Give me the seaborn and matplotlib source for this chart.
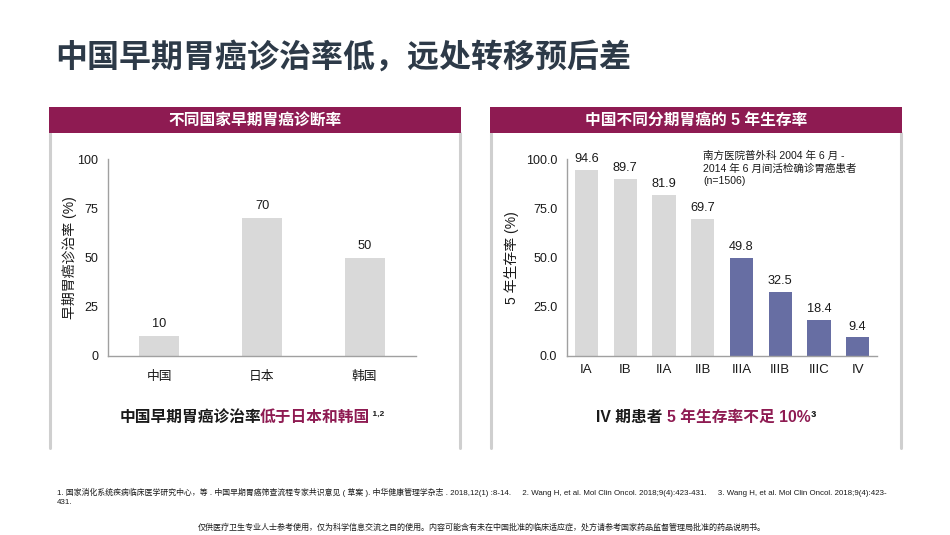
import matplotlib
matplotlib.use("Agg")
import matplotlib.pyplot as plt
import seaborn as sns
import pandas as pd
from matplotlib.patches import Rectangle
from matplotlib.lines import Line2D

# ---- data ----
countries = ["中国", "日本", "韩国"]
early_rate = [10, 70, 50]
stages = ["IA", "IB", "IIA", "IIB", "IIIA", "IIIB", "IIIC", "IV"]
survival = [94.6, 89.7, 81.9, 69.7, 49.8, 32.5, 18.4, 9.4]
left_yticks = [0, 25, 50, 75, 100]
right_yticks = [0.0, 25.0, 50.0, 75.0, 100.0]

sns.set_theme(style="white")
plt.rcParams['font.family'] = ['Liberation Sans', 'Noto Sans CJK SC', 'DejaVu Sans']
plt.rcParams['axes.unicode_minus'] = False

W, H = 950, 535
fig = plt.figure(figsize=(W / 100, H / 100), dpi=100)
fig.patch.set_facecolor("white")

MAGENTA = "#8e1b52"
GRAY_BAR = "#d9d9d9"
PURPLE = "#676ea3"
SPINE = "#a0a0a0"
TXT = "#1a1a1a"

def fx(x):
    return x / W

def fy(y):
    return 1 - y / H

# ---- title ----
fig.text(fx(55), fy(58), "中国早期胃癌诊治率低，远处转移预后差", fontsize=23, fontweight="bold",
         color="#2d3a48", ha="left", va="center")

# ---- panel frames ----
for x0, x1, head in [(49, 461, "不同国家早期胃癌诊断率"), (490, 902, "中国不同分期胃癌的 5 年生存率")]:
    fig.patches.append(Rectangle((fx(x0), fy(133)), fx(x1 - x0), (133 - 107) / H,
                                 transform=fig.transFigure, facecolor=MAGENTA, edgecolor="none", zorder=1))
    for xx in (x0 + 1, x1 - 1):
        fig.lines.append(Line2D([fx(xx), fx(xx)], [fy(133), fy(448)], transform=fig.transFigure,
                                color="#cfcfcf", linewidth=2.2, zorder=1))
    fig.text(fx((x0 + x1) / 2), fy(120), head, fontsize=11.3, fontweight="bold", color="white",
             ha="center", va="center")

# ---- left chart ----
axL = fig.add_axes([fx(108), fy(356), fx(416 - 108), (356 - 159) / H])
dfL = pd.DataFrame({"country": countries, "rate": early_rate})
sns.barplot(data=dfL, x="country", y="rate", ax=axL, color=GRAY_BAR, width=0.39,
            saturation=1, edgecolor="none")
axL.set_ylim(0, 100)
axL.set_xlim(-0.5, len(countries) - 0.5)
axL.set_yticks(left_yticks)
axL.set_yticklabels([str(v) for v in left_yticks])
for c, v in enumerate(early_rate):
    axL.text(c, v + 3, f"{v}", ha="center", va="bottom", fontsize=9.2, color=TXT)
axL.set_xticks(range(len(countries)))
axL.set_xticks([i - 0.5 for i in range(len(countries) + 1)], minor=True)
axL.tick_params(axis="x", which="major", length=0, pad=11, labelsize=9.2, labelcolor=TXT)
axL.tick_params(axis="x", which="minor", length=5, width=1, color=SPINE, direction="out")
axL.tick_params(axis="y", length=5, width=1, color=SPINE, direction="out", labelsize=9, labelcolor=TXT, pad=2)
axL.set_xlabel("")
axL.set_ylabel("早期胃癌诊治率 (%)", fontsize=10, color=TXT, labelpad=0)
for s in ["top", "right"]:
    axL.spines[s].set_visible(False)
for s in ["left", "bottom"]:
    axL.spines[s].set_color(SPINE)
    axL.spines[s].set_linewidth(1)
axL.set_facecolor("white")

# ---- right chart ----
axR = fig.add_axes([fx(567), fy(356), fx(877 - 567), (356 - 159) / H])
dfR = pd.DataFrame({"stage": stages, "surv": survival,
                    "grp": ["early"] * 4 + ["late"] * 4})
sns.barplot(data=dfR, x="stage", y="surv", hue="grp", ax=axR, palette={"early": GRAY_BAR, "late": PURPLE},
            width=0.6, saturation=1, edgecolor="none", dodge=False, legend=False)
axR.set_ylim(0, 100)
axR.set_xlim(-0.5, len(stages) - 0.5)
axR.set_yticks(right_yticks)
axR.set_yticklabels([f"{v:.1f}" for v in right_yticks])
for c, v in enumerate(survival):
    axR.text(c, v + 2.5, f"{v}", ha="center", va="bottom", fontsize=9.2, color=TXT)
axR.tick_params(axis="x", length=0, pad=6, labelsize=9.5, labelcolor=TXT)
axR.tick_params(axis="y", length=5, width=1, color=SPINE, direction="out", labelsize=9, labelcolor=TXT, pad=2)
axR.set_xlabel("")
axR.set_ylabel("5 年生存率 (%)", fontsize=10, color=TXT, labelpad=5)
for s in ["top", "right"]:
    axR.spines[s].set_visible(False)
for s in ["left", "bottom"]:
    axR.spines[s].set_color(SPINE)
    axR.spines[s].set_linewidth(1)
axR.set_facecolor("white")

fig.text(fx(703), fy(151), "南方医院普外科 2004 年 6 月 -\n2014 年 6 月间活检确诊胃癌患者\n(n=1506)",
         fontsize=7.6, color=TXT, ha="left", va="top", linespacing=1.25)

# ---- subtitles composed of coloured pieces ----
renderer = fig.canvas.get_renderer()

def rich_line(pieces, cx, cy):
    texts = []
    widths = []
    for s, col, size, dy, trim in pieces:
        t = fig.text(0, 0, s, fontsize=size, fontweight="bold", color=col, ha="left", va="baseline")
        bb = t.get_window_extent(renderer)
        texts.append((t, dy))
        widths.append(bb.width - trim)
    total = sum(widths)
    x = cx - total / 2
    for (t, dy), w in zip(texts, widths):
        t.set_position((x / W, fy(cy - dy)))
        x += w

rich_line([("中国早期胃癌诊治率", TXT, 11.3, 0, 1.5), ("低于日本和韩国", MAGENTA, 11.3, 0, 0),
           (" 1,2", TXT, 6, 6, 0)], 252, 422)
rich_line([("IV 期患者 ", TXT, 11.3, 0, 0), ("5 年生存率不足 10%", MAGENTA, 11.3, 0, 0),
           ("³", TXT, 11.3, 0, 0)], 706, 422)

# ---- footnotes ----
fig.text(fx(57), fy(497),
         "1. 国家消化系统疾病临床医学研究中心，等 . 中国早期胃癌筛查流程专家共识意见 ( 草案 ). 中华健康管理学杂志 . 2018,12(1) :8-14.     "
         "2. Wang H, et al. Mol Clin Oncol. 2018;9(4):423-431.     3. Wang H, et al. Mol Clin Oncol. 2018;9(4):423-\n431.",
         fontsize=5.65, color=TXT, ha="left", va="center", linespacing=1.45)
fig.text(fx(482), fy(527),
         "仅供医疗卫生专业人士参考使用，仅为科学信息交流之目的使用。内容可能含有未在中国批准的临床适应症，处方请参考国家药品监督管理局批准的药品说明书。",
         fontsize=5.8, color=TXT, ha="center", va="center")

fig.savefig("out.png", dpi=100, facecolor="white")
